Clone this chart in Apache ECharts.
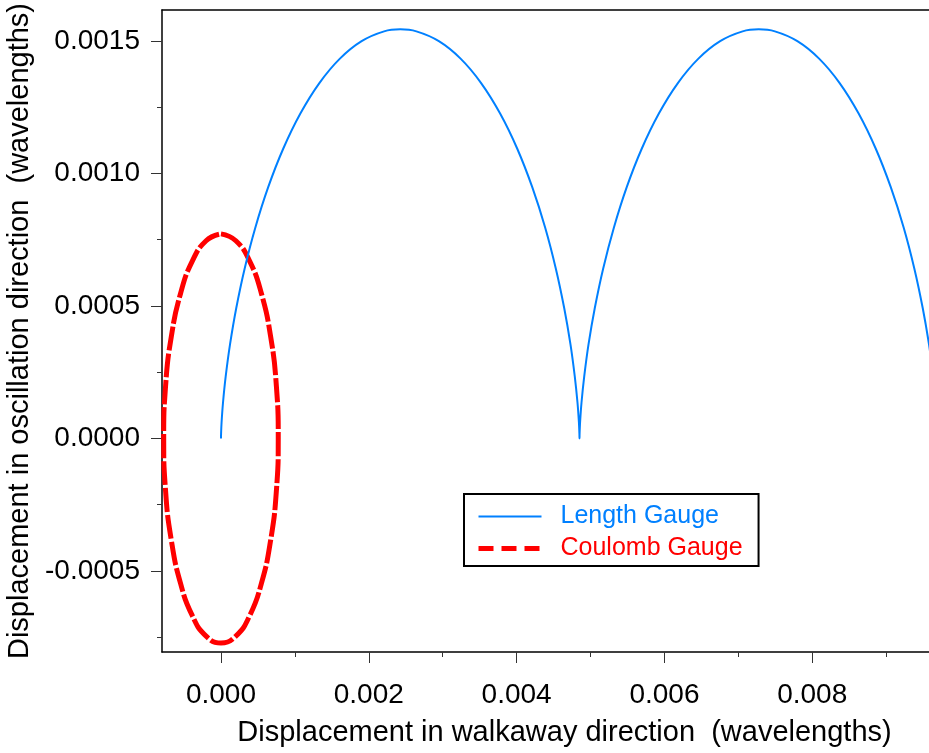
<!DOCTYPE html>
<html>
<head>
<meta charset="utf-8">
<script src="https://cdn.jsdelivr.net/npm/echarts@6/dist/echarts.min.js"></script>
<style>
html,body{margin:0;padding:0;background:#fff;overflow:hidden;}
#chart{width:929px;height:753px;}
</style>
</head>
<body>
<div id="chart"></div>
<script>
// Length gauge trajectory
const lengthX = [0,0.00000103,0.00000817,0.0000273,0.0000638,0.0001224,0.0002069,0.00032,0.0004635,0.0006378,0.000842,0.0010742,0.0013313,0.0016092,0.001903,0.0022071,0.0024253,
  0.002644,0.002948,0.003242,0.00352,0.003777,0.004009,0.004213,0.004388,0.004531,0.004644,0.004729,0.004787,0.004824,0.004843,0.00485,0.004851,
  0.004852,0.004859,0.004878,0.004915,0.004973,0.005058,0.005171,0.005315,0.005489,0.005693,0.005925,0.006182,0.00646,0.006754,0.007058,0.007276,
  0.007495,0.007799,0.008093,0.008371,0.008628,0.00886,0.009064,0.009239,0.009382,0.009495,0.00958,0.009638];
const lengthY = [0,0.0000154,0.0000609,0.0001348,0.0002341,0.0003549,0.0004923,0.0006408,0.0007945,0.0009474,0.0010933,0.0012263,0.0013413,0.0014335,0.0014994,0.0015363,0.001544,
  0.0015363,0.0014994,0.0014335,0.0013413,0.0012263,0.0010933,0.0009474,0.0007945,0.0006408,0.0004923,0.0003549,0.0002341,0.0001348,0.0000609,0.0000154,0,
  0.0000154,0.0000609,0.0001348,0.0002341,0.0003549,0.0004923,0.0006408,0.0007945,0.0009474,0.0010933,0.0012263,0.0013413,0.0014335,0.0014994,0.0015363,0.001544,
  0.0015363,0.0014994,0.0014335,0.0013413,0.0012263,0.0010933,0.0009474,0.0007945,0.0006408,0.0004923,0.0003549,0.0002341];
// Coulomb gauge trajectory
const coulombX = [0,0.000201,0.000388,0.000548,0.000671,0.000749,0.000775,0.000749,0.000671,0.000548,0.000388,0.000201,0,
  -0.000201,-0.000388,-0.000548,-0.000671,-0.000749,-0.000775,-0.000749,-0.000671,-0.000548,-0.000388,-0.000201,0];
const coulombY = [0.000772,0.000746,0.000669,0.000546,0.000386,0.0002,0,-0.0002,-0.000386,-0.000546,-0.000669,-0.000746,-0.000772,
  -0.000746,-0.000669,-0.000546,-0.000386,-0.0002,0,0.0002,0.000386,0.000546,0.000669,0.000746,0.000772];
// Tick values
const xMajorTicks = [0, 0.002, 0.004, 0.006, 0.008];
const xMinorTicks = [0.001, 0.003, 0.005, 0.007, 0.009];
const yMajorTicks = [-0.0005, 0, 0.0005, 0.0010, 0.0015];
const yMinorTicks = [-0.00075, -0.00025, 0.00025, 0.00075, 0.00125];
const seriesNames = ['Length Gauge', 'Coulomb Gauge'];

const xMin = -0.000798, xMax = 0.00958;
const yMin = -0.000806, yMax = 0.001617;
const FONT = 'Liberation Sans, Arial, sans-serif';

const zip = (a, b) => a.map((v, i) => [v, b[i]]);

const chart = echarts.init(document.getElementById('chart'), null, {renderer: 'canvas'});
const axisLineStyle = {color: '#000', width: 1.5};
chart.setOption({
  animation: false,
  backgroundColor: '#fff',
  grid: {left: 162, right: 0, top: 10, bottom: 101, containLabel: false, outerBoundsMode: 'none'},
  legend: {
    show: true,
    orient: 'vertical', left: 464, top: 494,
    borderColor: '#000', borderWidth: 2, borderRadius: 0,
    padding: [10, 16, 5, 12],
    itemWidth: 63, itemHeight: 14, itemGap: 7,
    itemStyle: {opacity: 0},
    textStyle: {fontFamily: FONT, fontSize: 25, padding: [0, 0, 0, 14]},
    data: [
      {name: seriesNames[0], textStyle: {color: '#0080ff'}},
      {name: seriesNames[1], textStyle: {color: '#ff0000'}, lineStyle: {type: [15, 8], width: 5}}
    ]
  },
  xAxis: [
    {
      type: 'value', min: xMin, max: xMax, position: 'bottom',
      name: 'Displacement in walkaway direction  (wavelengths)',
      nameLocation: 'middle', nameGap: 66,
      nameTextStyle: {fontFamily: FONT, fontSize: 29, color: '#000', padding: [0, 0, 0, 38]},
      axisLine: {show: true, onZero: false, lineStyle: axisLineStyle},
      axisTick: {show: true, inside: false, length: 11, customValues: xMajorTicks, lineStyle: {color: '#333', width: 1}},
      axisLabel: {show: true, margin: 29, customValues: xMajorTicks, fontFamily: FONT, fontSize: 28, color: '#000',
        formatter: v => v.toFixed(3)},
      splitLine: {show: false}
    },
    {
      type: 'value', min: xMin, max: xMax, position: 'bottom',
      axisLine: {show: false, onZero: false},
      axisTick: {show: true, inside: false, length: 5, customValues: xMinorTicks, lineStyle: {color: '#333', width: 1}},
      axisLabel: {show: false},
      splitLine: {show: false}
    },
    {
      type: 'value', min: xMin, max: xMax, position: 'top',
      axisLine: {show: true, onZero: false, lineStyle: axisLineStyle},
      axisTick: {show: false}, axisLabel: {show: false}, splitLine: {show: false}
    }
  ],
  yAxis: [
    {
      type: 'value', min: yMin, max: yMax, position: 'left',
      name: 'Displacement in oscillation direction  (wavelengths)',
      nameLocation: 'middle', nameGap: 112, nameRotate: 90,
      nameTextStyle: {fontFamily: FONT, fontSize: 29, color: '#000'},
      axisLine: {show: true, onZero: false, lineStyle: axisLineStyle},
      axisTick: {show: true, inside: false, length: 11, customValues: yMajorTicks, lineStyle: {color: '#333', width: 1}},
      axisLabel: {show: true, margin: 22, customValues: yMajorTicks, fontFamily: FONT, fontSize: 28, color: '#000',
        formatter: v => v.toFixed(4)},
      splitLine: {show: false}
    },
    {
      type: 'value', min: yMin, max: yMax, position: 'left',
      axisLine: {show: false, onZero: false},
      axisTick: {show: true, inside: false, length: 5, customValues: yMinorTicks, lineStyle: {color: '#333', width: 1}},
      axisLabel: {show: false},
      splitLine: {show: false}
    }
  ],
  series: [
    {
      name: seriesNames[0], type: 'line', xAxisIndex: 0, yAxisIndex: 0,
      data: zip(lengthX, lengthY), showSymbol: false, symbol: 'none', smooth: 0.3, clip: true,
      lineStyle: {color: '#0080ff', width: 2}, itemStyle: {color: '#0080ff'}, z: 3
    },
    {
      name: seriesNames[1], type: 'line', xAxisIndex: 0, yAxisIndex: 0,
      data: zip(coulombX, coulombY), showSymbol: false, symbol: 'none', smooth: 0.5, clip: true,
      lineStyle: {color: '#ff0000', width: 5, type: [24, 3]}, itemStyle: {color: '#ff0000'}, z: 2
    }
  ]
});
</script>
</body>
</html>
